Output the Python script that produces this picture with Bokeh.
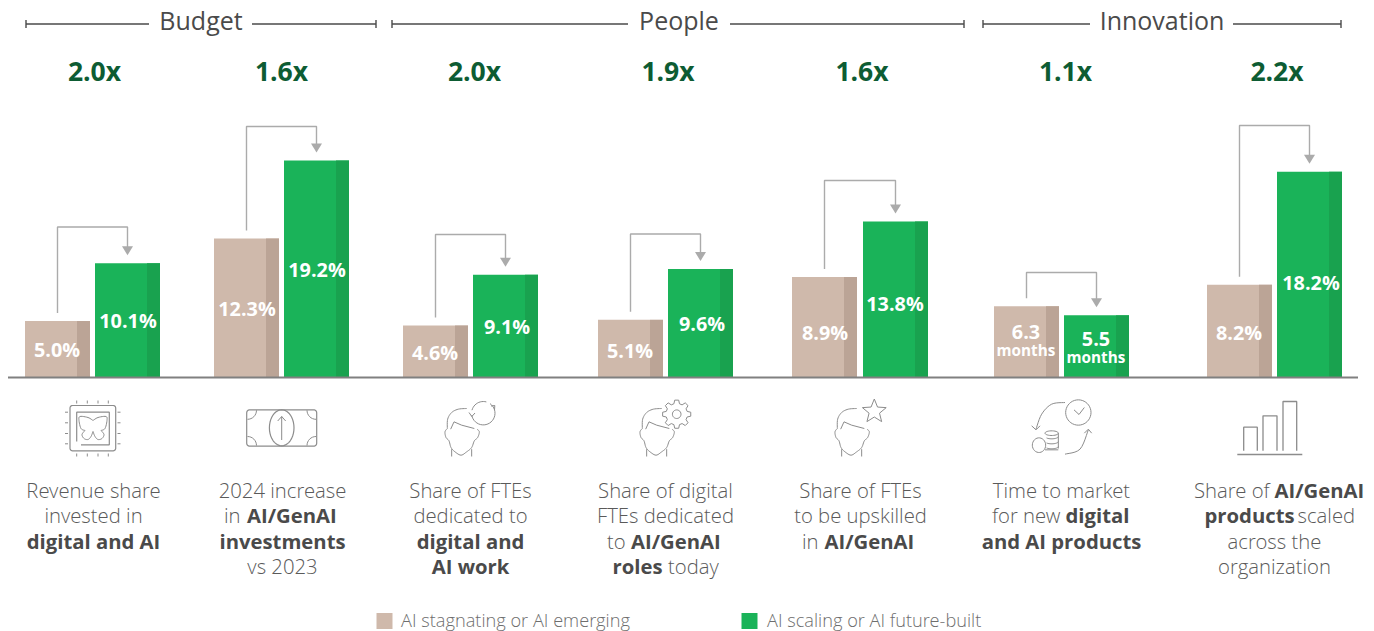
import math
from bokeh.plotting import figure
from bokeh.embed import file_html
from bokeh.resources import INLINE
from bokeh.models import Range1d
from bokeh.core.properties import value

# ---------- data ----------
lagging = [5.0, 12.3, 4.6, 5.1, 8.9, 6.3, 8.2]
leading = [10.1, 19.2, 9.1, 9.6, 13.8, 5.5, 18.2]
multipliers = ["2.0x", "1.6x", "2.0x", "1.9x", "1.6x", "1.1x", "2.2x"]
units = ["%", "%", "%", "%", "%", " months", "%"]
groups = ["Budget", "People", "Innovation"]
legend_labels = ["AI stagnating or AI emerging", "AI scaling or AI future-built"]

# ---------- layout (reference page pixels) ----------
W, H = 1374, 631
PX_PER_UNIT = 11.3
BASE = 377
left_x = [25, 214, 403, 598, 792, 994, 1207]
right_x = [95, 284, 473, 668, 863, 1064, 1277]
BW, SHADE = 65, 13
bracket_top = [226.5, 126, 234, 233.5, 180, 272, 125]
col_center = [93.5, 282.5, 470.5, 665.5, 860.5, 1061.5, 1274.5]

BEIGE, BEIGE_D = "#CFB9AB", "#BBA496"
GREEN, GREEN_D = "#1AB359", "#19A24F"
DARKG = "#0D5C33"
TXT = "#5A5A5A"
ICON = "#8C8C8C"
ARROW = "#ABABAB"
FONT = value("Open Sans")
LIGHT = value("Open Sans Light")

def vy(py):
    return (BASE - py) / PX_PER_UNIT

p = figure(width=W, height=H, output_backend="svg", toolbar_location=None,
           x_range=Range1d(0.5, W + 0.5), y_range=Range1d(vy(H), vy(0)),
           min_border=0, outline_line_color=None, background_fill_color="white",
           border_fill_color="white")
p.xgrid.visible = False
p.ygrid.visible = False
p.xaxis.visible = False
p.yaxis.visible = False
p.extra_y_ranges = {"px": Range1d(H, 0)}
PX = dict(y_range_name="px")

# ---------- bars ----------
def bars(xs, vals, c, cd):
    p.vbar(x=[x + BW / 2 for x in xs], top=vals, bottom=0, width=BW, fill_color=c, line_color=None)
    p.vbar(x=[x + BW - SHADE / 2 for x in xs], top=vals, bottom=0, width=SHADE, fill_color=cd, line_color=None)

bars(left_x, lagging, BEIGE, BEIGE_D)
bars(right_x, leading, GREEN, GREEN_D)
p.line([8, 1358], [BASE, BASE], line_color="#808080", line_width=2, **PX)

# ---------- brackets ----------
for i in range(7):
    x0 = left_x[i] + BW / 2
    x1 = right_x[i] + BW / 2
    y0 = BASE - lagging[i] * PX_PER_UNIT - 8
    y1 = BASE - leading[i] * PX_PER_UNIT - 8
    yt = bracket_top[i]
    p.line([x0, x0, x1, x1], [y0, yt, yt, y1 - 6], line_color=ARROW, line_width=1.4, **PX)
    p.patch([x1 - 5.5, x1 + 5.5, x1], [y1 - 9, y1 - 9, y1], fill_color=ARROW, line_color=None, **PX)

# ---------- group headers ----------
hdr = [(26, 149, 252, 376, 201), (392, 628, 730, 964, 679), (983, 1090, 1233, 1341, 1162)]
for g, (a, b, c, d, m) in zip(groups, hdr):
    p.multi_line([[a, b], [c, d], [a, a], [d, d]], [[23.5, 23.5], [23.5, 23.5], [19.5, 27.5], [19.5, 27.5]],
                 line_color="#4A4A4A", line_width=1.4, **PX)
    p.text([m], [19.5], text=[g], text_font=FONT, text_font_size="25px", text_color="#4A4A4A",
           text_align="center", text_baseline="middle", **PX)

# ---------- multipliers ----------
p.text([94.5, 281.5, 474.5, 668, 862, 1065.5, 1277], [70] * 7, text=multipliers, text_font=FONT,
       text_font_size="26.5px", text_font_style="bold", text_color=DARKG,
       text_align="center", text_baseline="middle", **PX)

# ---------- value labels ----------
lab_l = [(57, 349), (247, 308), (435, 352), (630, 350), (825, 332), (1026, 331), (1239, 332)]
lab_r = [(128, 320), (317, 269), (507, 326), (702, 323), (895, 303), (1096, 338), (1311, 282)]
for vals, labs in ((lagging, lab_l), (leading, lab_r)):
    for v, u, (x, y) in zip(vals, units, labs):
        s = f"{v:.1f}" + ("%" if u == "%" else "")
        p.text([x], [y], text=[s], text_font=FONT, text_font_size="19.8px", text_font_style="bold",
               text_color="white", text_align="center", text_baseline="middle", **PX)
        if u != "%":
            p.text([x], [y + 18], text=[u.strip()], text_font=FONT, text_font_size="15.3px", text_font_style="bold",
                   text_color="white", text_align="center", text_baseline="middle", **PX)

# ---------- descriptions ----------
LY = [489, 514, 540, 565]
def put(x, line, s, bold=False, align="center"):
    p.text([x], [LY[line]], text=[s], text_font=FONT if bold else LIGHT, text_font_size="20.3px",
           text_font_style="bold" if bold else "normal", text_color=TXT if not bold else "#4A4A4A",
           text_align=align, text_baseline="middle", **PX)

c = col_center
put(c[0], 0, "Revenue share"); put(c[0], 1, "invested in"); put(c[0], 2, "digital and AI", True)
put(c[1], 0, "2024 increase"); put(224, 1, "in", align="left"); put(247, 1, "AI/GenAI", True, "left")
put(c[1], 2, "investments", True); put(c[1], 3, "vs 2023")
put(c[2], 0, "Share of FTEs"); put(c[2], 1, "dedicated to"); put(c[2], 2, "digital and", True); put(c[2], 3, "AI work", True)
put(c[3], 0, "Share of digital"); put(c[3], 1, "FTEs dedicated"); put(607, 2, "to", align="left")
put(631, 2, "AI/GenAI", True, "left"); put(612.6, 3, "roles", True, "left"); put(668, 3, "today", align="left")
put(c[4], 0, "Share of FTEs"); put(c[4], 1, "to be upskilled"); put(802, 2, "in", align="left"); put(824.5, 2, "AI/GenAI", True, "left")
put(c[5], 0, "Time to market"); put(992, 1, "for new", align="left"); put(1065.5, 1, "digital", True, "left")
put(c[5], 2, "and AI products", True)
put(1194, 0, "Share of", align="left"); put(1274.5, 0, "AI/GenAI", True, "left")
put(1204.5, 1, "products", True, "left"); put(1297.5, 1, "scaled", align="left")
put(c[6], 2, "across the"); put(c[6], 3, "organization")

# ---------- legend ----------
p.rect([384.5, 749.5], [620.5, 620.5], width=16, height=16, fill_color=[BEIGE, GREEN], line_color=None, **PX)
p.text([401, 767], [619, 619], text=legend_labels, text_font=LIGHT, text_font_size="18.2px", text_color="#6E6E6E",
       text_align="left", text_baseline="middle", **PX)

# ---------- icons ----------
def smooth(pts, n=6):
    out = []
    P = [pts[0]] + list(pts) + [pts[-1]]
    for i in range(1, len(P) - 2):
        p0, p1, p2, p3 = P[i - 1], P[i], P[i + 1], P[i + 2]
        for k in range(n):
            t = k / n
            f = lambda a, b, c_, d: 0.5 * (2 * b + (c_ - a) * t + (2 * a - 5 * b + 4 * c_ - d) * t * t + (3 * b - a - 3 * c_ + d) * t ** 3)
            out.append((f(p0[0], p1[0], p2[0], p3[0]), f(p0[1], p1[1], p2[1], p3[1])))
    out.append(pts[-1])
    return out

def stroke(pts, ox=0, oy=0, s=1.0, w=1.0, col=ICON):
    p.line([ox + a * s for a, _ in pts], [oy + b * s for _, b in pts], line_color=col, line_width=w, **PX)

def arc_pts(cx, cy, rx, ry, a0, a1, n=30):
    return [(cx + rx * math.cos(math.radians(a0 + (a1 - a0) * i / n)),
             cy + ry * math.sin(math.radians(a0 + (a1 - a0) * i / n))) for i in range(n + 1)]

def rrect(x0, y0, x1, y1, r):
    pts = []
    pts += arc_pts(x0 + r, y0 + r, r, r, 180, 270, 5)
    pts += arc_pts(x1 - r, y0 + r, r, r, 270, 360, 5)
    pts += arc_pts(x1 - r, y1 - r, r, r, 0, 90, 5)
    pts += arc_pts(x0 + r, y1 - r, r, r, 90, 180, 5)
    pts.append(pts[0])
    return pts

# chip
stroke(rrect(70, 405, 115.7, 450.3, 2.5), w=1.2)
stroke([(76.7, 441), (76.7, 411.7), (109.3, 411.7), (109.3, 444.3), (81, 444.3)], w=1.2)
for t in (76.7, 87.3, 98, 108.3):
    stroke([(t, 400), (t, 403)]); stroke([(t, 453), (t, 456)])
for t in (411.7, 422.3, 433, 443.3):
    stroke([(65, t), (68, t)]); stroke([(117.5, t), (120.5, t)])
wing_u = [(93, 420), (88, 417), (80, 416), (79, 420), (81, 428), (85, 430)]
wing_l = [(85, 430), (82, 434), (84, 438), (88, 439), (91, 436), (93, 431)]
for w_ in (wing_u, wing_l):
    stroke(smooth(w_))
    stroke(smooth([(186 - a, b) for a, b in w_]))

# money
stroke(rrect(246.7, 409.3, 316.7, 445.7, 3), w=1.2)
stroke(arc_pts(281.7, 427.3, 12.3, 18, 0, 360, 40), w=1.2)
stroke([(281.7, 439.5), (281.7, 416)]); stroke([(277.7, 420.5), (281.7, 416), (285.7, 420.5)])
stroke(arc_pts(247.5, 409.8, 9, 9, 0, 90, 8)); stroke(arc_pts(316, 409.8, 9, 9, 90, 180, 8))
stroke(arc_pts(247.5, 445, 9, 9, 270, 360, 8)); stroke(arc_pts(316, 445, 9, 9, 180, 270, 8))

# heads (relative to a 70px crop, drawn at 3x)
hair = [(95, 48), (70, 50), (50, 60), (38, 80), (37, 108)]
face = [(37, 108), (30, 118), (33, 135), (42, 145), (48, 165), (60, 178), (78, 188), (95, 178), (110, 165), (118, 145), (128, 135), (133, 118), (126, 110)]
fringe = [(47, 110), (57, 88), (80, 98), (118, 108)]
for ox, oy in ((435, 392), (630, 392), (825, 392)):
    for seg in (hair, face):
        stroke(smooth(seg), ox, oy, 1 / 3)
    stroke(fringe, ox, oy, 1 / 3)
    stroke([(50, 170), (50, 192)], ox, oy, 1 / 3)
    stroke([(110, 170), (110, 192)], ox, oy, 1 / 3)

# circular arrows
stroke(arc_pts(483.3, 412.7, 11.7, 11.7, -55, 170, 24))
stroke(arc_pts(483.3, 412.7, 11.7, 11.7, 195, 285, 12))
stroke([(469, 412), (471.8, 416), (475, 412.5)]); stroke([(491, 405.5), (494.8, 405), (494.5, 409.5)])

# gear
gear = []
for k in range(8):
    a = k * 45 - 90
    for da, r in ((-15, 10.8), (-8, 14.2), (8, 14.2), (15, 10.8)):
        gear.append((676.7 + r * math.cos(math.radians(a + da)), 413.7 + r * math.sin(math.radians(a + da))))
gear.append(gear[0])
stroke(gear)
stroke(arc_pts(676.7, 413.7, 4.3, 4.3, 0, 360, 24))

# star
star = []
for k in range(10):
    r = 12.5 if k % 2 == 0 else 5.5
    a = math.radians(-90 + k * 36)
    star.append((874.3 + r * math.cos(a), 411 + r * math.sin(a)))
star.append(star[0])
stroke(star)

# clock & coins
ox, oy = 1025, 392
s = 1 / 3
stroke(arc_pts(160, 60, 38, 38, 0, 360, 40), ox, oy, s)
stroke([(147, 52), (162, 66), (178, 45)], ox, oy, s)
stroke(smooth([(120, 30), (80, 35), (50, 65), (33, 110)]), ox, oy, s)
stroke([(20, 100), (33, 112), (45, 100)], ox, oy, s)
stroke(smooth([(120, 185), (165, 170), (190, 112)]), ox, oy, s)
stroke([(178, 122), (190, 110), (200, 122)], ox, oy, s)
stroke(arc_pts(42, 158, 20, 22, 0, 360, 30), ox, oy, s)
stroke(arc_pts(80, 122, 20, 7, 0, 360, 30), ox, oy, s)
for yy in (137, 152, 167):
    stroke(arc_pts(80, yy - 5, 20, 7, 0, 140, 16), ox, oy, s)
stroke([(100, 122), (100, 168)], ox, oy, s)
stroke([(60, 172), (100, 172)], ox, oy, s)

# small bars
for x0, x1, t in ((1243.7, 1257.3, 426.7), (1263, 1277, 415.3), (1283, 1296.7, 401)):
    stroke([(x0, 450.3), (x0, t), (x1, t), (x1, 450.3)], w=1.3)
stroke([(1237.3, 454), (1302.3, 454)], w=1.6)

open("out.html", "w").write(file_html(p, INLINE))
